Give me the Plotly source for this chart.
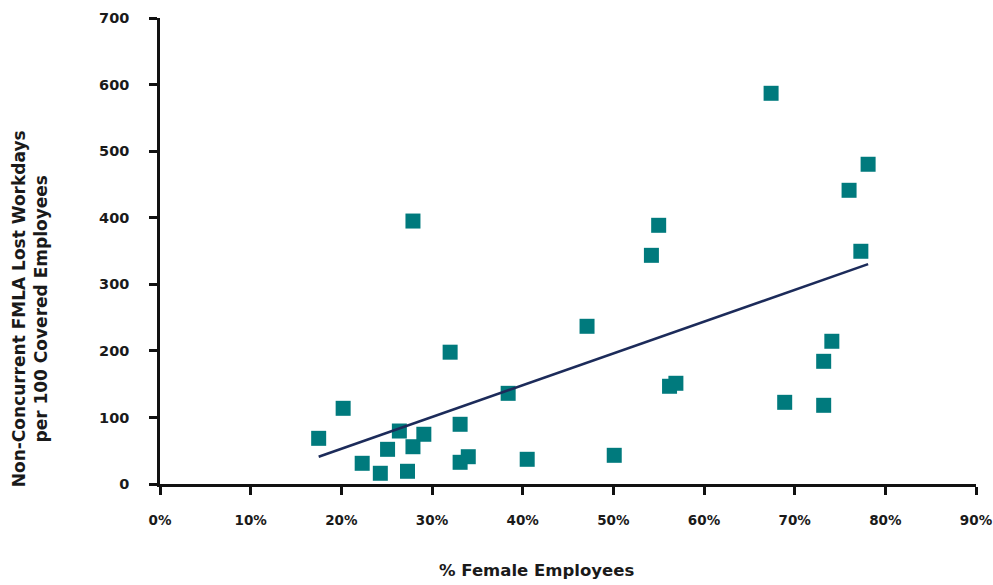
import numpy as np
import plotly.graph_objects as go

# % female employees
pct_female = [17.5, 20.2, 22.3, 24.3, 25.1, 26.4, 27.3, 27.9, 27.9, 29.1,
              32.0, 33.1, 33.1, 34.0, 38.4, 40.5, 47.1, 50.1, 54.2, 55.0,
              56.2, 56.9, 67.4, 68.9, 73.2, 73.2, 74.1, 76.0, 77.3, 78.1]
# Non-concurrent FMLA lost workdays per 100 covered employees
lost_days = [68.6, 113.7, 31.1, 16.1, 52.1, 79.6, 19.1, 395.0, 56.0, 74.7,
             198.0, 89.7, 32.6, 41.0, 136.2, 37.1, 236.9, 43.1, 343.5, 388.6,
             146.8, 151.3, 586.9, 122.7, 184.3, 118.2, 214.4, 441.2, 349.6, 480.3]

x_ticks = [0, 10, 20, 30, 40, 50, 60, 70, 80, 90]
y_ticks = [0, 100, 200, 300, 400, 500, 600, 700]

x_title = "% Female Employees"
y_title = "Non-Concurrent FMLA Lost Workdays<br>per 100 Covered Employees"

xa = np.array(pct_female)
ya = np.array(lost_days)
slope, intercept = np.polyfit(xa, ya, 1)
tx = np.array([xa.min(), xa.max()])
ty = slope * tx + intercept

FONT = "DejaVu Sans"

fig = go.Figure()
fig.add_trace(go.Scatter(
    x=pct_female, y=lost_days, mode="markers",
    marker=dict(symbol="square", size=15, color="#007A7D", line=dict(width=0)),
    showlegend=False, hoverinfo="x+y"))
fig.add_trace(go.Scatter(
    x=tx, y=ty, mode="lines",
    line=dict(color="#1C2B5A", width=2.6),
    showlegend=False, hoverinfo="skip"))

axis_common = dict(
    showgrid=False, zeroline=False, showline=True, linecolor="#111111", linewidth=2.5,
    ticks="outside", ticklen=8, tickwidth=2.5, tickcolor="#111111", automargin=False,
)

fig.update_layout(
    width=993, height=585,
    margin=dict(l=160, r=17, t=18, b=101),
    paper_bgcolor="white", plot_bgcolor="white",
    font=dict(family=FONT),
    xaxis=dict(range=[0, 90], tickvals=x_ticks, ticktext=[f"{v}%" for v in x_ticks],
               ticklabelstandoff=14,
               tickfont=dict(family=FONT, size=13.5, color="#1a1a1a", weight="bold"),
               **axis_common),
    yaxis=dict(range=[0, 700], tickvals=y_ticks, ticklabelstandoff=17,
               tickfont=dict(family=FONT, size=14.5, color="#1a1a1a", weight="bold"),
               **axis_common),
    annotations=[
        dict(text=x_title, xref="paper", yref="paper", x=0.462, y=-0.186,
             xanchor="center", yanchor="middle", showarrow=False,
             font=dict(family=FONT, size=16.5, color="#1a1a1a", weight="bold")),
        dict(text=y_title, xref="paper", yref="paper", x=-0.159, y=0.3755,
             xanchor="center", yanchor="middle", showarrow=False, textangle=-90,
             font=dict(family=FONT, size=17, color="#1a1a1a", weight="bold")),
    ],
)

fig.write_html("out.html", config={"displayModeBar": False},
               post_script="document.body.style.margin='0';document.body.style.overflow='hidden';")
